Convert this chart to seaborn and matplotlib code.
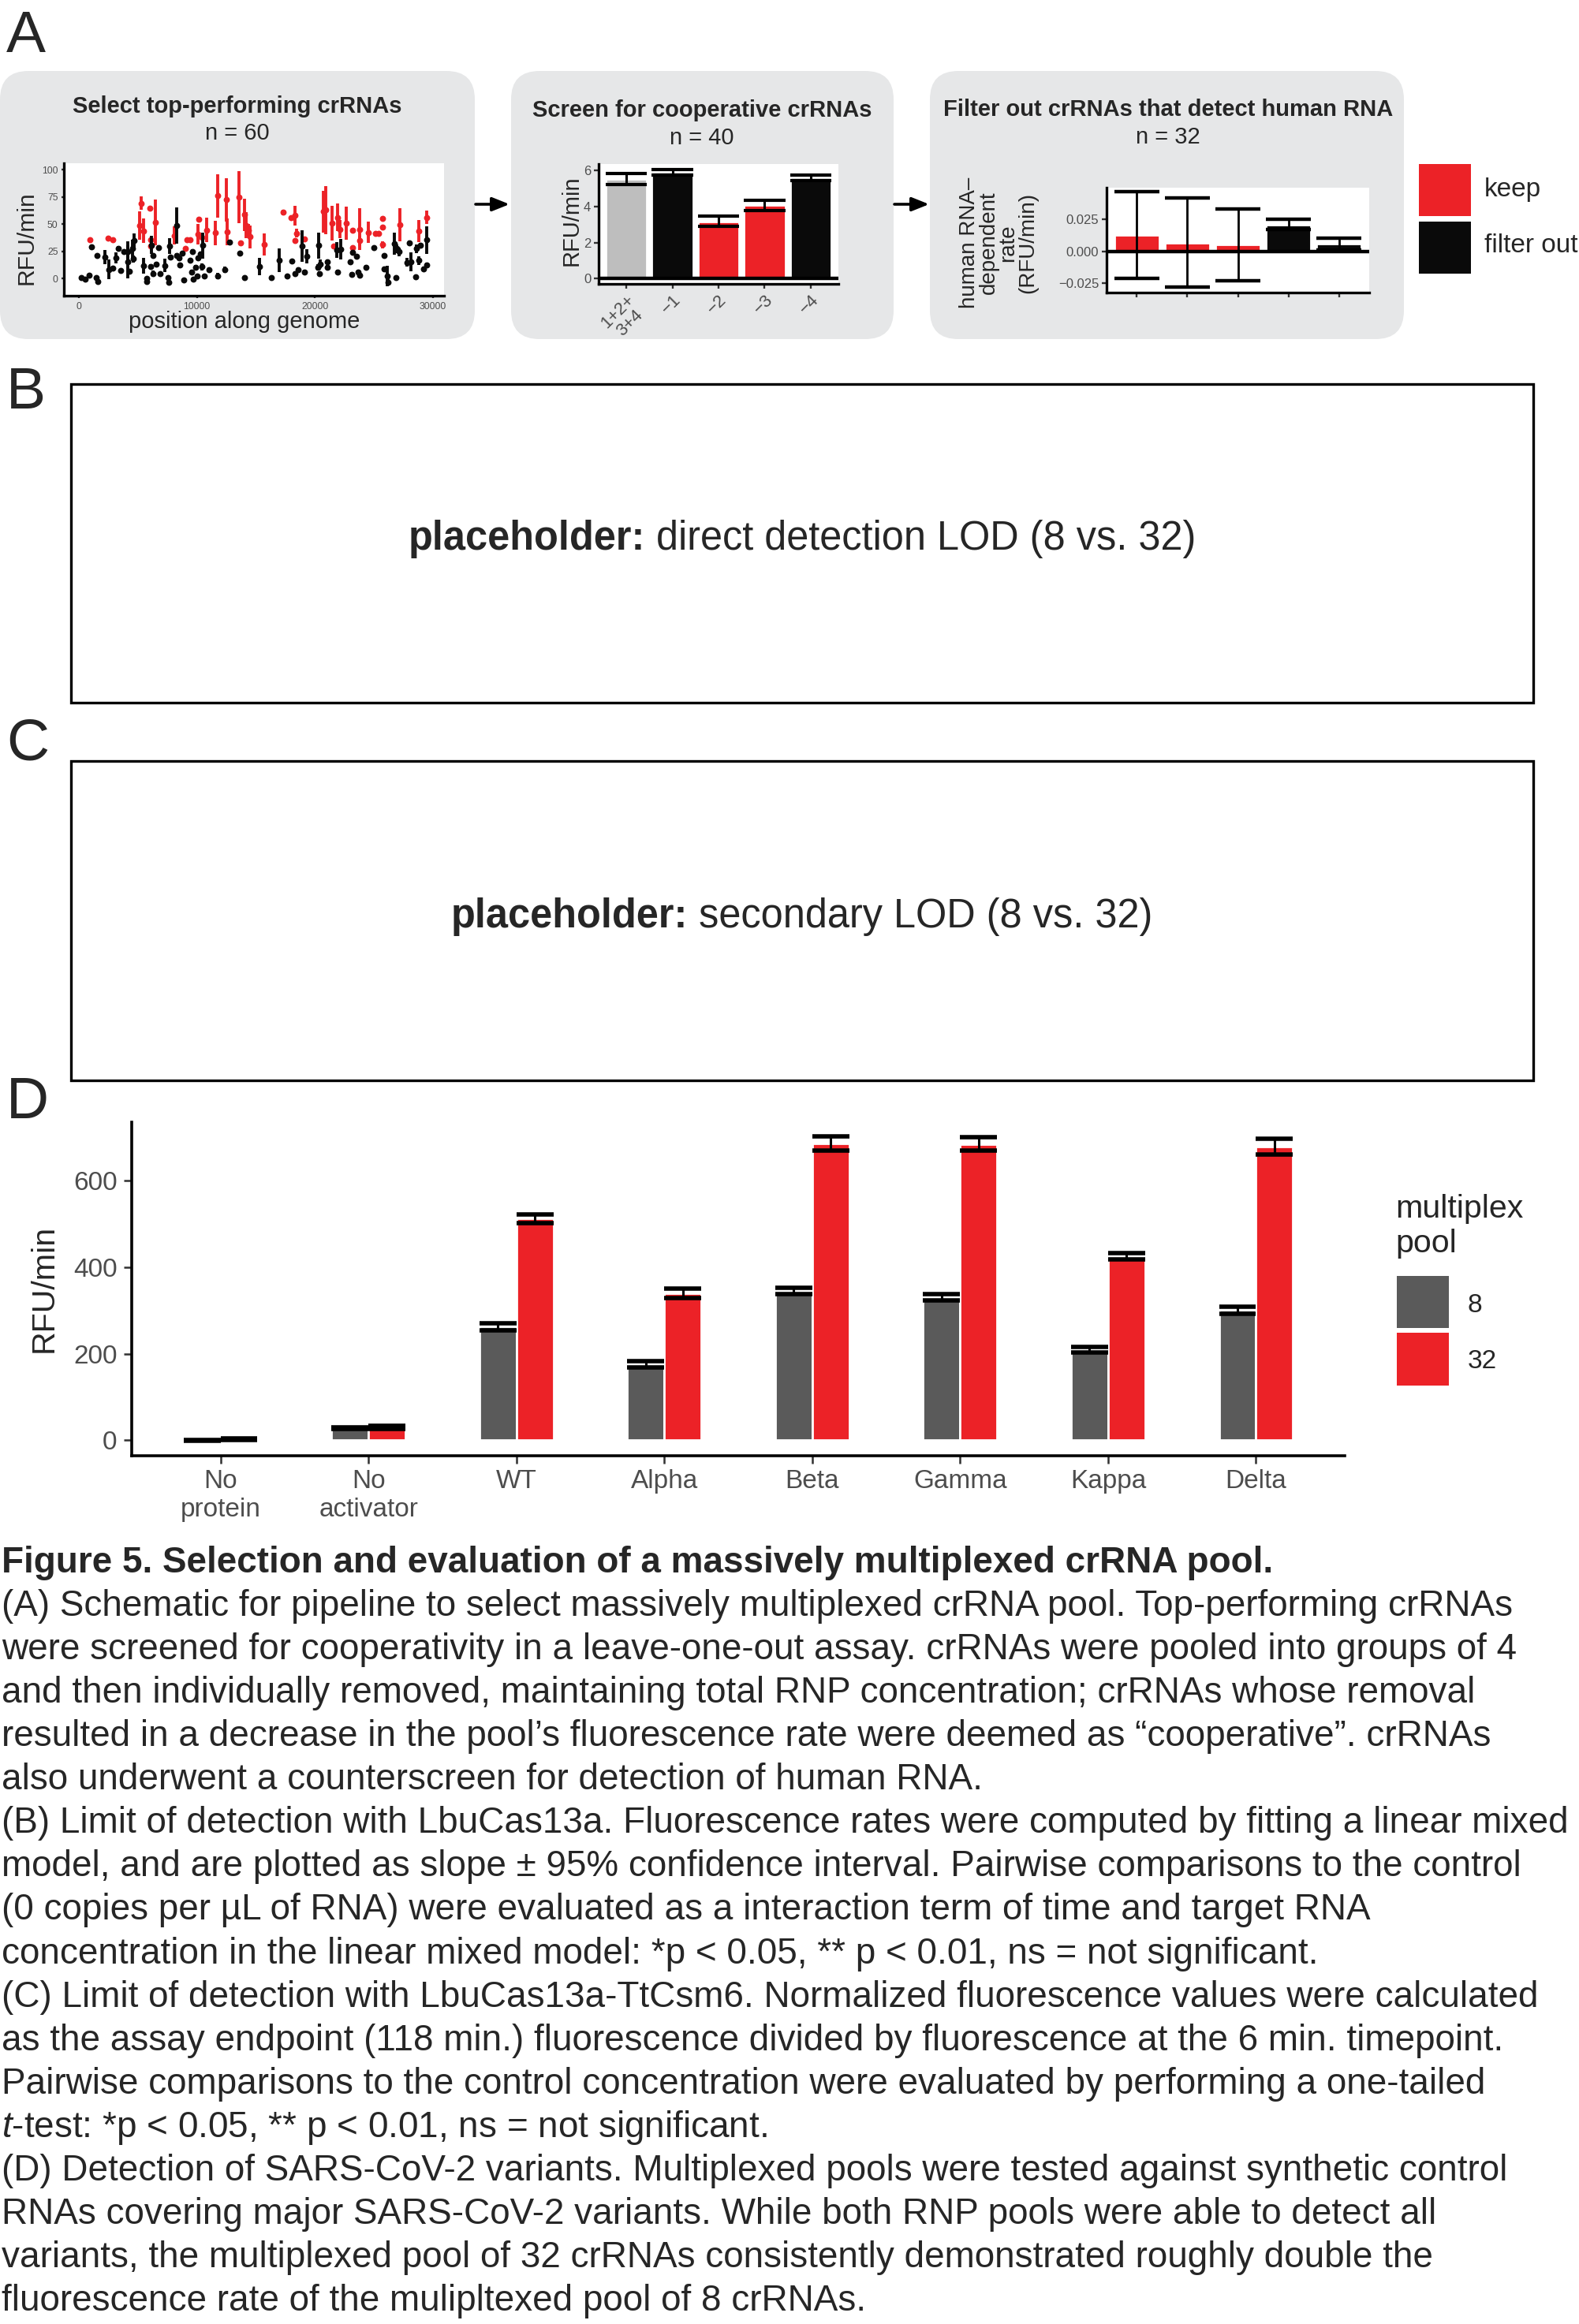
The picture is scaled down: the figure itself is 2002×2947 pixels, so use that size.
import numpy as np
import pandas as pd
import matplotlib.pyplot as plt
import seaborn as sns
from matplotlib.patches import FancyBboxPatch, Rectangle

W, H, DPI = 2002, 2947, 200

RED = "#EC2227"
BLACK = "#0A0A0A"
GREY = "#5A5A5A"
LIGHT = "#BEBEBE"
BOXGREY = "#E6E7E8"
TXT = "#4D4D4D"

# ---- panel A, left: rate of every crRNA along the genome
red_pos = [933, 2444, 2889, 5266, 5155, 5489, 6044, 6488, 6066, 6110, 8066, 9000, 9155, 9444,
           10177, 10066, 10444, 10844, 11555, 11777, 12488, 12555, 13555, 13711, 14044, 14155,
           14333, 14500, 15711, 17333, 18000, 18333, 18444, 18333, 19111, 20733, 20888, 21444,
           21555, 21888, 22111, 22622, 23177, 23177, 23777, 23777, 24488, 25111, 25377, 25711,
           25733, 25733, 27222, 28822, 29444]
red_rate = [35.4, 37, 36, 69.4, 48.6, 44, 65, 51.4, 35.4, 30, 39.5, 27.5, 35.4, 35.4,
            54.5, 40.7, 37.6, 44.7, 41.9, 76, 72.5, 43, 75, 33, 58.6, 49,
            44.3, 38.3, 31.6, 61, 55.7, 58, 41.8, 34.7, 36.6, 61.5, 62.9, 51,
            29.9, 56.2, 45.4, 51, 44.2, 28.7, 45.4, 34.7, 42.3, 41.8, 41.4, 55,
            47.4, 31.1, 49.5, 43.8, 56.2]
red_err = [1.5, 1.5, 1.5, 6, 13, 11.4, 1.5, 21, 1.5, 1.5, 8.4, 1.5, 2, 2,
           1.5, 9.6, 2, 11.4, 11.4, 19.7, 20, 12, 24, 1.5, 15, 12,
           6, 10.8, 10.2, 2.5, 1.5, 9, 4.2, 1.5, 1.5, 19, 22, 16,
           1.5, 12.5, 8.4, 15, 1.5, 1.5, 19, 5, 9.8, 1.5, 1.5, 1.5,
           1.5, 3, 15, 10.4, 6.3]

blk_pos = [222, 555, 889, 1444, 1622, 1066, 1511, 2222, 2511, 2889, 3111, 3333, 3555, 3777,
           4111, 4155, 4289, 4511, 4666, 4600, 5489, 5777, 5733, 6155, 6266, 6110, 6289, 6733,
           6555, 6889, 7289, 7555, 7622, 7711, 7733, 8266, 8289, 8511, 8777, 8555, 8889, 9444,
           9622, 9555, 9666, 9889, 10000, 10111, 10289, 10511, 10444, 10622, 11044, 11733,
           12377, 12733, 13600, 14044,
           15289, 16333, 16955, 17666, 18044, 18288, 18555, 18888, 19111, 19288, 20222, 20311,
           20444, 20400, 21022, 21022, 21911, 21844, 22177, 22955, 23177, 23133, 23511, 23622,
           23800, 24288, 25000, 25844, 25844, 26111, 26177, 26733, 26844, 26955, 27133, 27800,
           28022, 28111, 28511, 28622, 28800, 28955, 29222, 29444, 29444]
blk_rate = [1.2, -0.7, 3.1, 1.2, -2.4, 29.4, 21, 19.9, 8.4, 9.6, 19, 28, 7.2, 24.6,
            15.5, 25, 6.7, 27.5, 34.7, 18, 12, 0, -2.4, 31, 21.5, 11.2, 4.8, 28.7,
            13.6, 4.8, 12, 1.2, -3.6, 29.9, 19.6, 49, 21.5, 19, 23.2, 12.7, -1.2, 16.7,
            25, 6, -0.7, 10.3, 2.4, 19, 22.7, 30.4, 10.8, 2.4, 8.4, 2.4,
            8.4, 33.5, 23.2, 1.2,
            11.2, 0.7, 16.7, 2.4, 16, 4.8, 8.4, 29.9, 6, 20.3, 10.3, 30.4,
            13.6, 4.8, 15.5, 10.3, 6, 26.3, 27, 15.5, 23.9, 4.1, 20.3, 6,
            3.1, 10.3, 28.7, 21.5, 8.8, 2.4, -3.1, 32.3, 1.2, 27.5, 24.6, 15,
            32.7, 15.5, 1.7, 27.5, 16.7, 31, 9, 35.4, 12.6]
blk_err = [1, 1, 1, 1, 2, 1, 2, 6.5, 9, 2, 4.8, 2, 2, 2,
           15, 9, 2, 8.4, 6.6, 3, 7.2, 1.5, 2, 8.4, 2, 2, 3, 2,
           2, 1.5, 6, 1.5, 1.5, 7.2, 2, 16.7, 2, 2, 2, 2, 1.5, 2,
           2, 2, 1.5, 2, 1.5, 2, 2, 12, 3, 1.5, 2, 3,
           3, 2, 1.5, 1.5,
           7.8, 1.5, 10.8, 1.5, 1.5, 2, 2, 14.4, 2, 6.6, 3, 12.2,
           4, 2, 2, 2, 2, 7.2, 9.6, 2, 2, 2, 2, 2,
           2, 2, 1.5, 1.5, 2, 9.6, 3, 10.2, 1.5, 4, 4, 4,
           2, 8.4, 1.5, 4, 4, 2, 2, 12.6, 2]

# ---- panel A, middle: leave-one-out screen
loo_labels = ["1+2+\n3+4", "\u22121", "\u22122", "\u22123", "\u22124"]
loo_rate = [5.53, 5.91, 3.17, 4.07, 5.6]
loo_err = [0.29, 0.16, 0.29, 0.29, 0.15]
loo_group = ["pool", "filter out", "keep", "keep", "filter out"]

# ---- panel A, right: human RNA counterscreen
hum_id = ["g1", "g2", "g3", "g4", "g5"]
hum_rate = [0.0128, 0.0067, 0.0051, 0.021, 0.0058]
hum_err = [0.034, 0.0352, 0.0284, 0.004, 0.0048]
hum_call = ["keep", "keep", "keep", "filter out", "filter out"]

# ---- panel D: variants
variants = ["No\nprotein", "No\nactivator", "WT", "Alpha", "Beta", "Gamma", "Kappa", "Delta"]
pools = ["8", "32"]
rate8 = [-0.5, 28, 262.5, 175, 345.5, 330, 208.5, 300.5]
err8 = [1.5, 2.5, 8.5, 7, 7.5, 7, 6.5, 8.5]
rate32 = [2, 30, 512, 339.5, 686, 684.5, 425, 678.5]
err32 = [1.5, 3.5, 10, 10.5, 16, 15.5, 7, 17.5]

caption = [
    "(A) Schematic for pipeline to select massively multiplexed crRNA pool. Top-performing crRNAs",
    "were screened for cooperativity in a leave-one-out assay. crRNAs were pooled into groups of 4",
    "and then individually removed, maintaining total RNP concentration; crRNAs whose removal",
    "resulted in a decrease in the pool\u2019s fluorescence rate were deemed as \u201ccooperative\u201d. crRNAs",
    "also underwent a counterscreen for detection of human RNA.",
    "(B) Limit of detection with LbuCas13a. Fluorescence rates were computed by fitting a linear mixed",
    "model, and are plotted as slope \u00b1 95% confidence interval. Pairwise comparisons to the control",
    "(0 copies per \u00b5L of RNA) were evaluated as a interaction term of time and target RNA",
    "concentration in the linear mixed model: *p < 0.05, ** p < 0.01, ns = not significant.",
    "(C) Limit of detection with LbuCas13a-TtCsm6. Normalized fluorescence values were calculated",
    "as the assay endpoint (118 min.) fluorescence divided by fluorescence at the 6 min. timepoint.",
    "Pairwise comparisons to the control concentration were evaluated by performing a one-tailed",
    r"$\mathit{t}$-test: *p < 0.05, ** p < 0.01, ns = not significant.",
    "(D) Detection of SARS-CoV-2 variants. Multiplexed pools were tested against synthetic control",
    "RNAs covering major SARS-CoV-2 variants. While both RNP pools were able to detect all",
    "variants, the multiplexed pool of 32 crRNAs consistently demonstrated roughly double the",
    "fluorescence rate of the mulipltexed pool of 8 crRNAs.",
]

sns.set_theme(style="ticks")
plt.rcParams["font.family"] = ["Liberation Sans", "DejaVu Sans"]
plt.rcParams["mathtext.fontset"] = "custom"
plt.rcParams["mathtext.rm"] = "Liberation Sans"
plt.rcParams["mathtext.it"] = "Liberation Sans:italic"
plt.rcParams["mathtext.bf"] = "Liberation Sans:bold"

fig = plt.figure(figsize=(W / DPI, H / DPI), dpi=DPI)
fig.patch.set_facecolor("white")

# full-figure canvas in pixel units (y down) for boxes, arrows and free text
bg = fig.add_axes([0, 0, 1, 1])
bg.set_xlim(0, W)
bg.set_ylim(H, 0)
bg.axis("off")
bg.set_zorder(-5)
renderer = fig.canvas.get_renderer()


def px_axes(x0, y0, x1, y1):
    return fig.add_axes([x0 / W, 1 - y1 / H, (x1 - x0) / W, (y1 - y0) / H])


def style(ax, lw=1.2, tlen=2.0, lsize=6, lcol=TXT):
    sns.despine(ax=ax)
    for s in ["left", "bottom"]:
        ax.spines[s].set_linewidth(lw)
        ax.spines[s].set_color("black")
    ax.tick_params(length=tlen, width=lw * 0.7, labelsize=lsize, labelcolor=lcol,
                   color="#333333", pad=1.5)
    ax.set_xlabel("")
    ax.set_ylabel("")
    ax.set_facecolor("white")


# panel letters
for letter, yb in [("A", 66), ("B", 518), ("C", 964), ("D", 1418)]:
    bg.text(8, yb, letter, fontsize=27, va="baseline", ha="left")

# grey rounded boxes of panel A
for x0, x1 in [(0, 602), (648, 1133), (1179, 1780)]:
    bg.add_patch(FancyBboxPatch((x0, 90), x1 - x0, 340, boxstyle="round,pad=0,rounding_size=36",
                                facecolor=BOXGREY, edgecolor="none"))
for xa, xb in [(603, 646), (1134, 1178)]:
    bg.annotate("", xy=(xb, 259), xytext=(xa, 259),
                arrowprops=dict(arrowstyle="-|>,head_length=0.55,head_width=0.22",
                                lw=1.3, color="black", shrinkA=0, shrinkB=0))

titles = [(301, 143, 177, "Select top-performing crRNAs", "n = 60"),
          (890, 148, 183, "Screen for cooperative crRNAs", "n = 40"),
          (1481, 147, 182, "Filter out crRNAs that detect human RNA", "n = 32")]
for xc, yt, yn, t, n in titles:
    bg.text(xc, yt, t, fontsize=10.5, fontweight="bold", ha="center", va="baseline")
    bg.text(xc, yn, n, fontsize=10.5, ha="center", va="baseline")

# ---- A left: scatter
ax1 = px_axes(81, 207, 563, 375)
ax1.vlines(red_pos, np.subtract(red_rate, red_err), np.add(red_rate, red_err),
           color=RED, lw=1.4, zorder=2)
sns.scatterplot(x=red_pos, y=red_rate, color=RED, s=8, linewidth=0, ax=ax1, zorder=3)
ax1.vlines(blk_pos, np.subtract(blk_rate, blk_err), np.add(blk_rate, blk_err),
           color=BLACK, lw=1.4, zorder=4)
sns.scatterplot(x=blk_pos, y=blk_rate, color=BLACK, s=8, linewidth=0, ax=ax1, zorder=5)
ax1.set_xlim(-1270, 30935)
ax1.set_ylim(-15.7, 106)
ax1.set_xticks([0, 10000, 20000, 30000])
ax1.set_yticks([0, 25, 50, 75, 100])
style(ax1, lw=1.2, tlen=1.2, lsize=4.4)
bg.text(34, 302, "RFU/min", rotation=90, fontsize=10.8, ha="center", va="center")
bg.text(310, 416, "position along genome", fontsize=10.5, ha="center", va="baseline")

# ---- A middle: leave-one-out bars
ax2 = px_axes(759, 208, 1063, 360)
sns.barplot(x=loo_labels, y=loo_rate, hue=loo_group, order=loo_labels, dodge=False,
            palette={"pool": LIGHT, "filter out": BLACK, "keep": RED},
            width=0.9, saturation=1, legend=False, ax=ax2, zorder=2)
for bar in ax2.patches:
    x0 = bar.get_x()
    x1 = x0 + bar.get_width()
    i = int(round((x0 + x1) / 2))
    m, e = loo_rate[i], loo_err[i]
    ax2.vlines((x0 + x1) / 2, m - e, m + e, color="black", lw=1.1, zorder=4)
    ax2.hlines([m - e, m + e], x0, x1, color="black", lw=1.5, zorder=4)
ax2.axhline(0, color="black", lw=1.6, zorder=3)
ax2.set_xlim(-0.6, 4.6)
ax2.set_ylim(-0.3, 6.36)
ax2.set_yticks([0, 2, 4, 6])
style(ax2, lw=1.2, tlen=2.0, lsize=6)
ax2.set_xticks(range(len(loo_labels)))
ax2.set_xticklabels(loo_labels, rotation=45, ha="right", rotation_mode="anchor",
                    fontsize=8, color=TXT, linespacing=1.0, multialignment="center")
bg.text(725, 280, "RFU/min", rotation=90, fontsize=10.5, ha="center", va="center")

# ---- A right: human RNA counterscreen
ax3 = px_axes(1403, 238, 1736, 371)
sns.barplot(x=hum_id, y=hum_rate, hue=hum_call, order=hum_id, dodge=False,
            palette={"keep": RED, "filter out": BLACK}, width=0.9, saturation=1,
            legend=False, ax=ax3, zorder=2)
for bar in ax3.patches:
    x0 = bar.get_x()
    x1 = x0 + bar.get_width()
    i = int(round((x0 + x1) / 2))
    m, e = hum_rate[i], hum_err[i]
    ax3.vlines((x0 + x1) / 2, m - e, m + e, color="black", lw=1.0, zorder=4)
    ax3.hlines([m - e, m + e], x0, x1, color="black", lw=1.6, zorder=4)
ax3.axhline(0, color="black", lw=1.6, zorder=3)
ax3.set_xlim(-0.6, 4.6)
ax3.set_ylim(-0.0327, 0.0502)
ax3.set_yticks([-0.025, 0, 0.025])
ax3.set_yticklabels(["\u22120.025", "0.000", "0.025"])
style(ax3, lw=1.2, tlen=2.0, lsize=6)
ax3.set_xticks(range(len(hum_id)))
ax3.set_xticklabels([])
bg.text(1266, 308, "human RNA\u2013\ndependent\nrate\n(RFU/min)", rotation=90, fontsize=10,
        ha="center", va="center", multialignment="center", linespacing=0.95)

bg.add_patch(Rectangle((1799, 208), 66, 66, facecolor=RED, edgecolor="none"))
bg.add_patch(Rectangle((1799, 281), 66, 66, facecolor=BLACK, edgecolor="none"))
bg.text(1882, 241, "keep", fontsize=12, ha="left", va="center")
bg.text(1882, 312, "filter out", fontsize=12, ha="left", va="center")

# ---- B and C placeholders (bold lead word followed by plain text, centred together)
for y0, y1, label in [(487, 891, " direct detection LOD (8 vs. 32)"),
                      (965, 1370, " secondary LOD (8 vs. 32)")]:
    bg.add_patch(Rectangle((90, y0), 1854, y1 - y0, facecolor="none",
                           edgecolor="black", lw=1.2))
    yc = (y0 + y1) / 2 - 5
    tb = bg.text(0, yc, "placeholder:", fontsize=18.2, fontweight="bold",
                 ha="left", va="center")
    tn = bg.text(0, yc, label, fontsize=18.2, ha="left", va="center")
    wb = tb.get_window_extent(renderer=renderer).width
    wn = tn.get_window_extent(renderer=renderer).width
    start = 1017 - (wb + wn) / 2
    tb.set_x(start)
    tn.set_x(start + wb)

# ---- D: variant detection
dfD = pd.DataFrame({
    "variant": variants * 2,
    "pool": ["8"] * len(variants) + ["32"] * len(variants),
    "rate": rate8 + rate32,
})
errD = {"8": err8, "32": err32}
rateD = {"8": rate8, "32": rate32}
axD = px_axes(167, 1423, 1705, 1846)
sns.barplot(data=dfD, x="variant", y="rate", hue="pool", order=variants, hue_order=pools,
            palette={"8": GREY, "32": RED}, width=0.5, saturation=1, errorbar=None,
            legend=False, ax=axD, zorder=2)
for pool, cont in zip(pools, axD.containers):
    for bar in cont:
        x0 = bar.get_x()
        x1 = x0 + bar.get_width()
        i = int(round((x0 + x1) / 2))
        m, e = rateD[pool][i], errD[pool][i]
        axD.vlines((x0 + x1) / 2, m - e, m + e, color="black", lw=1.1, zorder=4)
        axD.hlines([m - e, m + e], x0, x1, color="black", lw=2.0, zorder=4)
axD.set_xlim(-0.6, 7.6)
axD.set_ylim(-36, 735)
axD.set_yticks([0, 200, 400, 600])
style(axD, lw=1.3, tlen=3.6, lsize=12)
axD.tick_params(axis="x", pad=2.6)
axD.tick_params(axis="y", pad=3)
bg.text(56, 1634, "RFU/min", rotation=90, fontsize=14.8, ha="center", va="center")

bg.text(1769, 1544, "multiplex", fontsize=14.8, ha="left", va="baseline")
bg.text(1769, 1588, "pool", fontsize=14.8, ha="left", va="baseline")
bg.add_patch(Rectangle((1771, 1618), 66, 66, facecolor=GREY, edgecolor="none"))
bg.add_patch(Rectangle((1771, 1690), 66, 67, facecolor=RED, edgecolor="none"))
bg.text(1861, 1664, "8", fontsize=12, ha="left", va="baseline")
bg.text(1861, 1735, "32", fontsize=12, ha="left", va="baseline")

# ---- caption
bg.text(2, 1982, "Figure 5. Selection and evaluation of a massively multiplexed crRNA pool.",
        fontsize=16.5, fontweight="bold", ha="left", va="center")
for k, line in enumerate(caption):
    bg.text(2, 1982 + (k + 1) * 55.06, line, fontsize=16.5, ha="left", va="center")

fig.savefig("out.png", dpi=DPI)
